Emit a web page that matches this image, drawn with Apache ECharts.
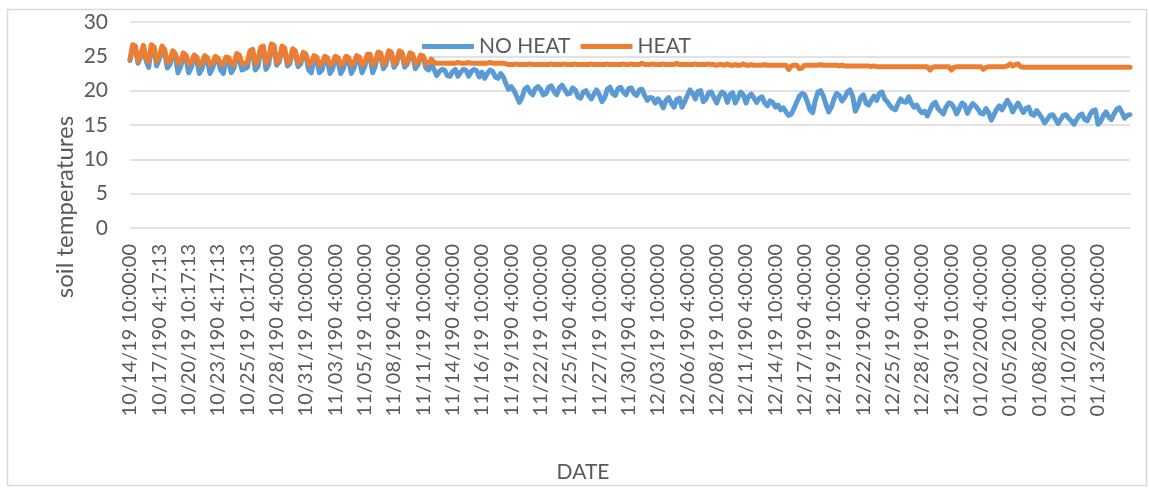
<!DOCTYPE html>
<html>
<head>
<meta charset="utf-8">
<title>soil temperatures</title>
<script src="https://cdn.jsdelivr.net/npm/echarts@6/dist/echarts.min.js"></script>
<style>
  html, body { margin: 0; padding: 0; background: #fff; }
  #chart { width: 1149px; height: 489px; }
</style>
</head>
<body>
<div id="chart"></div>
<script>
// one tick label every 11 readings
const tickLabels = [
  '10/14/19 10:00:00', '10/17/190 4:17:13', '10/20/19 10:17:13', '10/23/190 4:17:13',
  '10/25/19 10:17:13', '10/28/190 4:00:00', '10/31/19 10:00:00', '11/03/190 4:00:00',
  '11/05/19 10:00:00', '11/08/190 4:00:00', '11/11/19 10:00:00', '11/14/190 4:00:00',
  '11/16/19 10:00:00', '11/19/190 4:00:00', '11/22/19 10:00:00', '11/25/190 4:00:00',
  '11/27/19 10:00:00', '11/30/190 4:00:00', '12/03/19 10:00:00', '12/06/190 4:00:00',
  '12/08/19 10:00:00', '12/11/190 4:00:00', '12/14/19 10:00:00', '12/17/190 4:00:00',
  '12/19/19 10:00:00', '12/22/190 4:00:00', '12/25/19 10:00:00', '12/28/190 4:00:00',
  '12/30/19 10:00:00', '01/02/200 4:00:00', '01/05/20 10:00:00', '01/08/200 4:00:00',
  '01/10/20 10:00:00', '01/13/200 4:00:00'
];
const labelStep = 11;

const noHeat = [
  24.4, 26.4, 26.2, 24.0, 24.9, 26.3, 24.4, 23.4, 26.3, 26.0, 23.6,
  24.6, 26.0, 25.5, 23.3, 23.8, 25.5, 25.0, 22.6, 23.5, 25.0, 24.6,
  22.6, 23.4, 24.8, 24.5, 22.5, 23.2, 24.7, 24.4, 22.5, 23.3, 24.7,
  24.4, 23.0, 22.5, 24.6, 24.3, 22.6, 23.3, 24.9, 24.6, 23.0, 23.2,
  23.4, 25.5, 25.7, 23.0, 23.5, 26.0, 26.2, 23.1, 23.8, 26.5, 26.3,
  23.7, 24.2, 26.2, 25.9, 23.6, 24.0, 25.8, 25.5, 23.5, 23.9, 25.3,
  25.0, 23.0, 22.6, 24.8, 24.5, 22.6, 23.0, 24.7, 24.5, 22.5, 23.2,
  24.7, 24.4, 22.5, 23.2, 24.7, 24.4, 22.5, 23.3, 24.8, 24.5, 22.6,
  23.5, 25.0, 25.0, 22.6, 23.6, 25.3, 25.2, 23.2, 23.8, 25.5, 25.3,
  23.4, 24.0, 25.5, 25.3, 23.4, 23.9, 25.2, 25.0, 23.2, 23.8, 24.9,
  24.7, 23.3, 23.0, 24.0, 23.1, 22.2, 22.8, 23.1, 23.0, 22.2, 22.1,
  22.8, 23.1, 22.1, 22.7, 23.1, 23.0, 22.1, 22.8, 23.1, 22.9, 22.0,
  22.7, 21.8, 22.5, 23.0, 22.8, 22.0, 21.8, 22.5, 22.0, 21.0, 20.2,
  20.6, 20.0, 19.2, 18.3, 19.0, 20.2, 20.5, 19.8, 19.4, 20.3, 20.6,
  20.2, 19.4, 19.6, 20.5, 20.7, 19.9, 19.4, 20.4, 20.8, 20.2, 19.5,
  19.6, 20.4, 20.1, 19.1, 18.9, 19.8, 20.0, 19.3, 18.8, 19.5, 20.1,
  19.4, 18.4, 19.0, 20.2, 20.5, 19.6, 19.3, 20.3, 20.5, 19.8, 19.4,
  20.3, 20.4, 19.6, 19.3, 20.1, 20.2, 19.3, 18.6, 19.0, 18.9, 18.2,
  18.8, 18.3, 17.5, 18.6, 19.0, 18.2, 17.6, 18.7, 18.9, 17.6, 18.4,
  19.3, 20.1, 19.6, 18.8, 19.9, 20.0, 18.4, 18.8, 19.7, 19.8, 19.0,
  18.2, 19.2, 19.8, 19.5, 18.3, 19.4, 19.7, 18.2, 19.0, 19.8, 19.4,
  18.2, 19.2, 19.5, 18.9, 18.3, 18.9, 19.1, 18.2, 17.8, 18.5, 18.3,
  17.6, 17.9, 17.2, 17.5, 16.9, 16.4, 16.6, 17.4, 18.3, 19.2, 19.6,
  19.4, 18.4, 17.2, 16.8, 18.6, 19.8, 20.0, 19.2, 18.0, 16.9, 17.6,
  18.8, 19.6, 19.3, 18.5, 19.0, 19.8, 20.1, 19.2, 17.0, 17.8, 19.0,
  19.4, 18.2, 17.9, 18.6, 19.2, 18.6, 19.6, 19.8, 18.8, 18.4, 17.8,
  17.4, 17.2, 18.1, 18.8, 18.4, 18.3, 19.1, 18.2, 17.6, 17.9, 17.2,
  16.8, 17.0, 16.3, 17.2, 18.0, 18.3, 17.4, 17.0, 16.6, 17.6, 18.2,
  18.1, 17.5, 16.6, 17.4, 18.2, 17.9, 16.7, 17.5, 18.1, 17.8, 17.3,
  16.7, 16.6, 17.4, 16.8, 15.7, 16.5, 17.3, 17.8, 17.2, 17.9, 18.6,
  18.0, 16.9, 17.6, 18.2, 17.5, 16.8, 17.4, 17.6, 16.6, 16.4, 17.1,
  16.6, 16.0, 15.3, 15.8, 16.4, 16.5, 15.9, 15.2, 15.8, 16.4, 16.5,
  16.0, 15.6, 15.1, 15.8, 16.4, 16.6, 15.8, 15.6, 16.5, 17.1, 17.2,
  15.1, 15.5, 16.4, 16.9, 16.2, 15.8, 16.6, 17.3, 17.5, 16.8, 16.0,
  16.4, 16.5
];

const heat = [
  24.6, 26.7, 26.5, 24.3, 25.2, 26.6, 24.8, 24.2, 26.7, 26.4, 24.3,
  25.0, 26.5, 26.0, 24.1, 24.4, 25.8, 25.4, 24.0, 24.2, 25.5, 25.2,
  23.9, 24.1, 25.2, 24.9, 23.8, 24.0, 25.1, 24.8, 23.8, 24.0, 25.0,
  24.7, 24.0, 23.8, 24.9, 24.8, 24.0, 23.8, 25.4, 25.2, 24.0, 23.9,
  24.2, 25.8, 26.0, 23.9, 24.5, 26.3, 26.5, 24.0, 24.6, 26.8, 26.6,
  24.1, 24.6, 26.5, 26.2, 24.0, 24.5, 26.1, 25.8, 24.0, 24.3, 25.6,
  25.3, 23.9, 24.0, 25.1, 24.9, 23.8, 24.0, 25.0, 24.8, 23.8, 24.0,
  25.0, 24.8, 23.8, 24.0, 25.0, 24.8, 23.8, 24.0, 25.1, 24.9, 23.8,
  24.2, 25.3, 25.3, 23.8, 24.2, 25.6, 25.5, 23.8, 24.3, 25.8, 25.6,
  23.9, 24.4, 25.8, 25.6, 23.9, 24.3, 25.5, 25.3, 23.9, 24.2, 25.2,
  25.0, 23.9, 24.0, 24.6, 24.1, 24.0, 24.0, 24.0, 24.0, 24.0, 24.0,
  24.0, 24.0, 24.1, 24.0, 24.0, 24.0, 24.1, 24.0, 24.0, 24.0, 24.0,
  24.0, 24.0, 24.0, 24.1, 24.0, 24.0, 24.0, 24.0, 24.0, 23.9, 23.8,
  23.8, 23.8, 23.9, 23.8, 23.8, 23.8, 23.8, 23.9, 23.8, 23.8, 23.8,
  23.8, 23.8, 23.8, 23.8, 23.9, 23.8, 23.8, 23.8, 23.8, 23.9, 23.8,
  23.8, 23.8, 23.9, 23.8, 23.8, 23.8, 23.8, 23.8, 23.9, 23.8, 23.8,
  23.8, 23.8, 23.8, 23.9, 23.8, 23.8, 23.8, 23.8, 23.8, 23.9, 23.8,
  23.8, 23.9, 23.8, 23.8, 23.8, 24.0, 23.8, 23.8, 23.8, 23.9, 23.8,
  23.8, 23.8, 23.9, 23.8, 23.8, 23.8, 23.8, 24.0, 23.8, 23.8, 23.8,
  23.8, 23.8, 23.8, 23.9, 23.8, 23.8, 23.8, 23.8, 23.9, 23.8, 23.8,
  23.7, 23.8, 23.8, 23.7, 23.9, 23.7, 23.7, 23.8, 23.7, 23.7, 23.9,
  23.7, 23.7, 23.8, 23.7, 23.7, 23.7, 23.7, 23.8, 23.7, 23.7, 23.7,
  23.7, 23.7, 23.7, 23.7, 23.7, 23.1, 23.6, 23.7, 23.7, 23.2, 23.3,
  23.7, 23.7, 23.7, 23.7, 23.7, 23.7, 23.8, 23.7, 23.7, 23.7, 23.7,
  23.7, 23.7, 23.6, 23.7, 23.6, 23.6, 23.6, 23.6, 23.6, 23.6, 23.6,
  23.6, 23.6, 23.6, 23.5, 23.6, 23.5, 23.5, 23.5, 23.5, 23.5, 23.5,
  23.5, 23.5, 23.5, 23.5, 23.5, 23.5, 23.5, 23.5, 23.5, 23.5, 23.5,
  23.5, 23.5, 23.5, 23.0, 23.4, 23.5, 23.5, 23.5, 23.5, 23.5, 23.5,
  23.0, 23.4, 23.5, 23.5, 23.5, 23.5, 23.5, 23.5, 23.5, 23.5, 23.5,
  23.5, 23.1, 23.4, 23.5, 23.5, 23.5, 23.5, 23.5, 23.5, 23.5, 23.6,
  23.9, 23.6, 23.8, 23.9, 23.5, 23.4, 23.4, 23.4, 23.4, 23.4, 23.4,
  23.4, 23.4, 23.4, 23.4, 23.4, 23.4, 23.4, 23.4, 23.4, 23.4, 23.4,
  23.4, 23.4, 23.4, 23.4, 23.4, 23.4, 23.4, 23.4, 23.4, 23.4, 23.4,
  23.4, 23.4, 23.4, 23.4, 23.4, 23.4, 23.4, 23.4, 23.4, 23.4, 23.4,
  23.4, 23.4
];

// category per reading: the tick label where there is one, else its index
const categories = heat.map((v, i) => i % labelStep === 0 ? tickLabels[i / labelStep] : String(i));

const textColor = '#595959';
const gridColor = '#d9d9d9';
const font = 'Lato, "Open Sans", sans-serif';

const chart = echarts.init(document.getElementById('chart'));
chart.setOption({
  animation: false,
  textStyle: { fontFamily: font },
  color: ['#5b9bd5', '#ed7d31'],
  grid: { left: 130, right: 19, top: 22, bottom: 261 },
  legend: {
    data: ['NO HEAT', 'HEAT'],
    left: 417,
    top: 31,
    icon: 'roundRect',
    itemWidth: 52,
    itemHeight: 5,
    itemGap: 10,
    textStyle: { color: textColor, fontSize: 21, fontFamily: font }
  },
  xAxis: {
    type: 'category',
    boundaryGap: false,
    data: categories,
    axisLine: { show: false },
    axisTick: { show: false },
    axisLabel: {
      interval: labelStep - 1,
      rotate: 90,
      margin: 16,
      color: textColor,
      fontSize: 20,
      fontFamily: font,
      formatter: (v, i) => i % labelStep === 0 ? tickLabels[i / labelStep] : ''
    }
  },
  yAxis: {
    type: 'value',
    min: 0,
    max: 30,
    interval: 5,
    axisLine: { show: false },
    axisTick: { show: false },
    axisLabel: { color: textColor, fontSize: 21, margin: 22, fontFamily: font },
    splitLine: { lineStyle: { color: gridColor, width: 1.5 } }
  },
  series: [
    {
      name: 'NO HEAT',
      type: 'line',
      data: noHeat,
      showSymbol: false,
      lineStyle: { width: 5, join: 'round', cap: 'round' }
    },
    {
      name: 'HEAT',
      type: 'line',
      data: heat,
      showSymbol: false,
      lineStyle: { width: 5, join: 'round', cap: 'round' }
    }
  ],
  graphic: [
    {
      type: 'rect',
      shape: { x: 7.5, y: 9.5, width: 1139, height: 476 },
      style: { fill: 'none', stroke: gridColor, lineWidth: 1.5 },
      silent: true
    },
    {
      type: 'text',
      x: 65,
      y: 207,
      rotation: Math.PI / 2,
      style: {
        text: 'soil temperatures',
        fill: textColor,
        font: '24px ' + font,
        textAlign: 'center',
        textVerticalAlign: 'middle'
      }
    },
    {
      type: 'text',
      x: 583,
      y: 472,
      style: {
        text: 'DATE',
        fill: textColor,
        font: '21px ' + font,
        textAlign: 'center',
        textVerticalAlign: 'middle'
      }
    }
  ]
});
</script>
</body>
</html>
